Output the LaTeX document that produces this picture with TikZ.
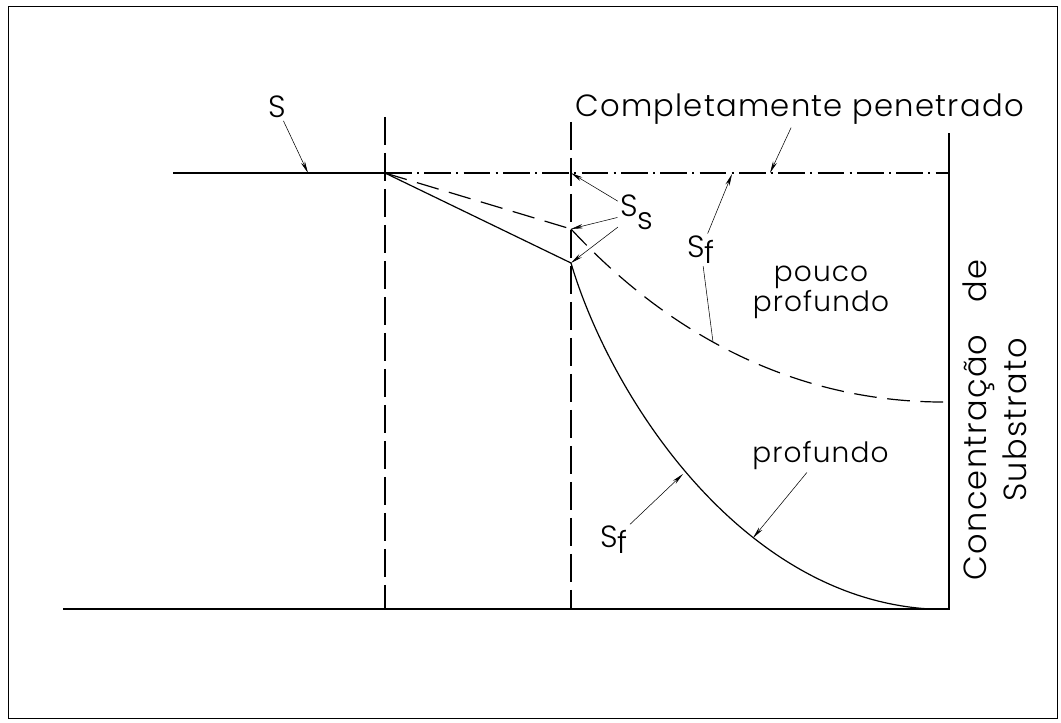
\documentclass[tikz,border=0pt]{standalone}
\usepackage{fontspec}
\setmainfont{Poppins}[UprightFont={* Light}, LetterSpace=4]
\usetikzlibrary{arrows.meta}

\tikzset{
  solidline/.style={line width=0.9pt},
  guide/.style={line width=0.9pt, dash pattern=on 21pt off 6pt},
  dashdotline/.style={line width=0.9pt, dash pattern=on 20pt off 4pt on 1.5pt off 4pt},
  shallow/.style={line width=0.9pt, dash pattern=on 17pt off 8pt},
  leader/.style={line width=0.4pt, shorten <=2pt, -{Stealth[length=9pt,width=3.2pt]}},
  txt/.style={inner sep=0pt, font=\fontsize{23}{27}\selectfont},
  smalltxt/.style={inner sep=0pt, font=\fontsize{21}{17}\selectfont, align=center},
}

\begin{document}
\begin{tikzpicture}[x=0.75pt, y=-0.75pt]
  \useasboundingbox (0,0) rectangle (1061,723);
  % Frame
  \draw[line width=0.7pt] (8,6) rectangle (1057,718);

  % Points on the profiles
  \coordinate (O) at (385,173);
  \coordinate (J) at (571,173);
  \coordinate (Pd) at (571,229);
  \coordinate (Ps) at (571,263);

  % Axes and guides
  \draw[solidline] (173,173) -- (O);
  \draw[dashdotline] (O) -- (949,173);
  \draw[solidline] (63,609) -- (949,609) -- (949,133);
  \draw[guide] (385,117) -- (385,609);
  \draw[guide] (571,122) -- (571,609);

  % Profiles
  \draw[solidline] (O) -- (Ps);
  \draw[shallow] (O) -- (Pd);
  \draw[solidline] (Ps) .. controls (610,395) and (740,598) .. (930,609);
  \draw[shallow] (Pd) .. controls (635,298) and (760,404) .. (949,402);

  % Labels
  \node[txt, anchor=base west] (lblS) at (268,118) {S};
  \node[txt, anchor=base west] (lblCP) at (575,117) {Completamente penetrado};
  \node[txt, anchor=base west] (lblSs) at (620,217) {S\raisebox{-9.5pt}{s}};
  \node[txt, anchor=base west] (lblSf) at (687,258) {S\raisebox{-4pt}{f}};
  \node[smalltxt] (lblPP) at (821,292) {pouco\\profundo};
  \node[smalltxt, anchor=base west] (lblP) at (752,463) {profundo};
  \node[txt, anchor=base west] (lblSfb) at (600,547) {S\raisebox{-5pt}{f}};
  \node[txt, font=\fontsize{24}{30}\selectfont, rotate=90, align=center] (lblAx) at (995,420) {Concentração\quad de\\Substrato};

  % Leaders
  \coordinate (tS) at (308,173);
  \coordinate (tCP) at (770,173);
  \coordinate (tSf) at (732,174);
  \coordinate (tSfd) at (713,342);
  \coordinate (tSfb) at (683,474);
  \coordinate (tP) at (753,538);
  \draw[leader] (lblS) -- (tS);
  \draw[leader] (lblCP) -- (tCP);
  \draw[leader] (lblSs) -- (J);
  \draw[leader] (lblSs) -- (Pd);
  \draw[leader] (lblSs) -- (Ps);
  \draw[leader] (lblSf) -- (tSf);
  \draw[line width=0.4pt, shorten <=2pt] (lblSf) -- (tSfd);
  \draw[leader] (lblSfb) -- (tSfb);
  \draw[leader] (lblP) -- (tP);
\end{tikzpicture}
\end{document}
